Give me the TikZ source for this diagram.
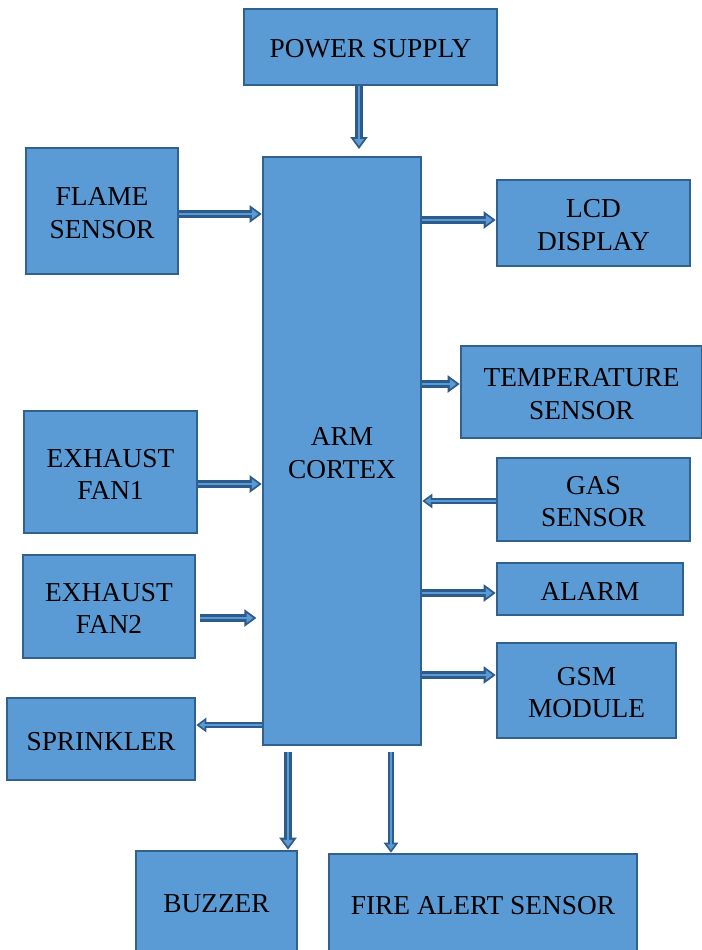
\documentclass[tikz,border=0pt]{standalone}
\usepackage{fontspec}
\setmainfont{Liberation Serif}
\usetikzlibrary{arrows.meta}
\definecolor{boxfill}{HTML}{5B9BD5}
\definecolor{boxline}{HTML}{31618F}
\definecolor{arrline}{HTML}{2E5C8A}
\tikzset{
  box/.style={draw=boxline, fill=boxfill, line width=1.9pt, inner sep=0pt},
  txt/.style={align=center, inner sep=0pt, yshift=-1.6pt,
    font=\fontsize{20.5}{24.2}\selectfont, text=black},
  bw/.style={minimum width=#1*0.75pt},
  bh/.style={minimum height=#1*0.75pt},
  barrow/.style={draw=boxfill, line width=2.2pt, shorten >=2.4pt,
    -{Triangle[length=5pt,width=7pt]},
    preaction={draw=arrline, line width=6pt, shorten >=0pt, -{Triangle[length=9pt,width=12.5pt]}}},
  sarrow/.style={draw=boxfill, line width=1.6pt, shorten >=2.2pt,
    -{Triangle[length=4pt,width=5.5pt]},
    preaction={draw=arrline, line width=4.6pt, shorten >=0pt, -{Triangle[length=7.5pt,width=10.5pt]}}}
}
\begin{document}
\begin{tikzpicture}[x=0.75pt,y=-0.75pt]
\useasboundingbox (0,0) rectangle (701,950);
\node[box, bw=253, bh=76, label={[txt]center:POWER SUPPLY}] (ps) at (370.5,47) {};
\node[box, bw=152, bh=126, label={[txt]center:FLAME\\SENSOR}] (flame) at (102,211) {};
\node[box, bw=158, bh=588, label={[txt]center:ARM\\CORTEX}] (arm) at (342,451) {};
\node[box, bw=193, bh=86, label={[txt]center:LCD\\DISPLAY}] (lcd) at (593.5,223) {};
\node[box, bw=241, bh=92, label={[txt]center:TEMPERATURE\\SENSOR}] (temp) at (581.5,392) {};
\node[box, bw=173, bh=122, label={[txt]center:EXHAUST\\FAN1}] (fan1) at (110.5,472) {};
\node[box, bw=193, bh=83, label={[txt]center:GAS\\SENSOR}] (gas) at (593.5,499.5) {};
\node[box, bw=172, bh=103, label={[txt]center:EXHAUST\\FAN2}] (fan2) at (109,606.5) {};
\node[box, bw=186, bh=52, label={[txt]center:ALARM}] (alarm) at (590,589) {};
\node[box, bw=179, bh=95, label={[txt]center:GSM\\MODULE}] (gsm) at (586.5,690.5) {};
\node[box, bw=188, bh=82, label={[txt]center:SPRINKLER}] (spr) at (101,739) {};
\node[box, bw=161, bh=102, label={[txt]center:BUZZER}] (buz) at (216.5,902) {};
\node[box, bw=308, bh=99, label={[txt]center:FIRE ALERT SENSOR}] (fire) at (483,903.5) {};

\draw[barrow] (ps.south -| 359,0) -- ([yshift=5pt]arm.north -| 359,0);
\draw[barrow] (flame.east |- 0,214) -- (arm.west |- 0,214);
\draw[barrow] (arm.east |- 0,220) -- (lcd.west |- 0,220);
\draw[barrow] (arm.east |- 0,384) -- (temp.west |- 0,384);
\draw[barrow] (fan1.east |- 0,484) -- (arm.west |- 0,484);
\draw[sarrow] (gas.west |- 0,501) -- (arm.east |- 0,501);
\draw[barrow] ([xshift=3pt]fan2.east |- 0,618) -- ([xshift=-4pt]arm.west |- 0,618);
\draw[barrow] (arm.east |- 0,593) -- (alarm.west |- 0,593);
\draw[barrow] (arm.east |- 0,675) -- (gsm.west |- 0,675);
\draw[sarrow] (arm.west |- 0,725) -- (spr.east |- 0,725);
\draw[barrow] ([yshift=-4pt]arm.south -| 288,0) -- (buz.north -| 288,0);
\draw[sarrow] ([yshift=-4pt]arm.south -| 391,0) -- (fire.north -| 391,0);
\end{tikzpicture}
\end{document}
